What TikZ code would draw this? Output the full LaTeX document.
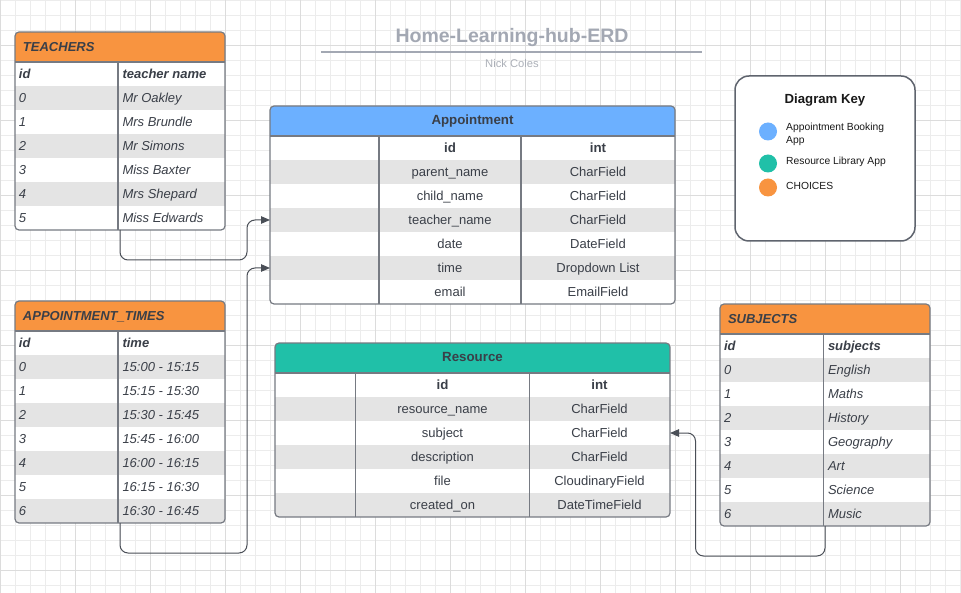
\documentclass[tikz,border=0pt]{standalone}
\usepackage{fontspec}
\setmainfont{Liberation Sans}
\usetikzlibrary{arrows.meta}
\definecolor{gridminor}{RGB}{236,236,236}
\definecolor{gridmajor}{RGB}{220,220,220}
\definecolor{orangeH}{RGB}{248,148,64}
\definecolor{blueH}{RGB}{108,176,255}
\definecolor{tealH}{RGB}{32,192,168}
\definecolor{rowgray}{RGB}{228,228,228}
\definecolor{txt}{RGB}{58,63,72}
\definecolor{tblborder}{RGB}{118,122,130}
\definecolor{conn}{RGB}{74,79,87}
\definecolor{titlegray}{RGB}{163,168,179}
\definecolor{subgray}{RGB}{172,176,184}
\definecolor{keyborder}{RGB}{95,100,110}
\definecolor{keytxt}{RGB}{25,25,25}
\tikzset{
  cell/.style={inner sep=0pt, outer sep=0pt, text=txt, text height=9.4pt, text depth=0pt, font=\fontsize{13}{15}\selectfont},
  icell/.style={cell, font=\fontsize{13}{15}\selectfont\itshape},
  bicell/.style={cell, font=\fontsize{13}{15}\selectfont\bfseries\itshape},
  bcell/.style={cell, font=\fontsize{13.3}{15}\selectfont\bfseries},
  rowbox/.style={draw=none, inner sep=0pt, outer sep=0pt, minimum height=24pt},
  tbl/.style={draw=tblborder, line width=1.2pt, rounded corners=4pt, inner sep=0pt, outer sep=0pt},
  divider/.style={draw=tblborder, line width=1.1pt},
  connector/.style={draw=conn, line width=1pt, rounded corners=8pt, -{Triangle[length=9pt,width=7.5pt]}},
  keydot/.style={circle, minimum size=18pt, inner sep=0pt},
  keytext/.style={inner sep=0pt, text=keytxt, font=\fontsize{10.3}{13.3}\selectfont, align=left},
}
\begin{document}
\begin{tikzpicture}[x=1pt,y=-1pt]
\useasboundingbox (0,0) rectangle (961,593);
\fill[white] (0,0) rectangle (961,593);
% grid
\foreach \i in {0,...,64} \draw[gridminor, line width=0.9pt] (0.7+15*\i,0) -- (0.7+15*\i,593);
\foreach \j in {0,...,39} \draw[gridminor, line width=0.9pt] (0,0.7+15*\j) -- (961,0.7+15*\j);
\foreach \i in {0,...,12} \draw[gridmajor, line width=1pt] (0.7+75*\i,0) -- (0.7+75*\i,593);
\foreach \j in {0,...,7} \draw[gridmajor, line width=1pt] (0,45.7+75*\j) -- (961,45.7+75*\j);

% title
\node[inner sep=0pt, text=titlegray, font=\fontsize{19.5}{22}\selectfont\bfseries] (title) at (512,38) {Home-Learning-hub-ERD};
\coordinate (ruleL) at (321,52);
\coordinate (ruleR) at (702,52);
\draw[titlegray, line width=1.3pt] (ruleL) -- (ruleR);
\node[inner sep=0pt, text=subgray, font=\fontsize{11.2}{13}\selectfont] (author) at (512,63.5) {Nick Coles};

% ===== TEACHERS =====
\begin{scope}
  \clip[rounded corners=4pt] (15,32) rectangle (225,230);
  \fill[white] (15,32) rectangle (225,230);
  \fill[orangeH] (15,32) rectangle (225,62);
  \foreach \r in {1,3,5} \fill[rowgray] (15,62+24*\r) rectangle (225,86+24*\r);
\end{scope}
\draw[divider] (15,62) -- (225,62);
\draw[divider] (118,62) -- (118,230);
\node[tbl, minimum width=210pt, minimum height=198pt] (teachers) at (120,131) {};
\node[bicell, anchor=west] (teachersTitle) at (23,47) {TEACHERS};
\node[bicell, anchor=west] (tchIdH) at (19,74) {id};
\node[bicell, anchor=west] (tchNmH) at (122.5,74) {teacher name};
\foreach \i/\n [count=\k from 1] in {0/Mr Oakley,1/Mrs Brundle,2/Mr Simons,3/Miss Baxter,4/Mrs Shepard,5/Miss Edwards} {
  \node[icell, anchor=west] (tchId\k) at (19,74+24*\k) {\i};
  \node[icell, anchor=west] (tchNm\k) at (122.5,74+24*\k) {\n};
}

% ===== APPOINTMENT_TIMES =====
\begin{scope}
  \clip[rounded corners=4pt] (15,301) rectangle (225,523);
  \fill[white] (15,301) rectangle (225,523);
  \fill[orangeH] (15,301) rectangle (225,331);
  \foreach \r in {1,3,5,7} \fill[rowgray] (15,331+24*\r) rectangle (225,355+24*\r);
\end{scope}
\draw[divider] (15,331) -- (225,331);
\draw[divider] (118,331) -- (118,523);
\node[tbl, minimum width=210pt, minimum height=222pt] (times) at (120,412) {};
\node[bicell, anchor=west] (timesTitle) at (23,316) {APPOINTMENT\_TIMES};
\node[bicell, anchor=west] (tmIdH) at (19,343) {id};
\node[bicell, anchor=west] (tmTmH) at (122.5,343) {time};
\foreach \i/\n [count=\k from 1] in {0/15:00 - 15:15,1/15:15 - 15:30,2/15:30 - 15:45,3/15:45 - 16:00,4/16:00 - 16:15,5/16:15 - 16:30,6/16:30 - 16:45} {
  \node[icell, anchor=west] (tmId\k) at (19,343+24*\k) {\i};
  \node[icell, anchor=west] (tmTm\k) at (122.5,343+24*\k) {\n};
}

% ===== SUBJECTS =====
\begin{scope}
  \clip[rounded corners=4pt] (720,304) rectangle (930,526);
  \fill[white] (720,304) rectangle (930,526);
  \fill[orangeH] (720,304) rectangle (930,334);
  \foreach \r in {1,3,5,7} \fill[rowgray] (720,334+24*\r) rectangle (930,358+24*\r);
\end{scope}
\draw[divider] (720,334) -- (930,334);
\draw[divider] (823.5,334) -- (823.5,526);
\node[tbl, minimum width=210pt, minimum height=222pt] (subjects) at (825,415) {};
\node[bicell, anchor=west] (subjectsTitle) at (728,319) {SUBJECTS};
\node[bicell, anchor=west] (sbIdH) at (724,346) {id};
\node[bicell, anchor=west] (sbNmH) at (828,346) {subjects};
\foreach \i/\n [count=\k from 1] in {0/English,1/Maths,2/History,3/Geography,4/Art,5/Science,6/Music} {
  \node[icell, anchor=west] (sbId\k) at (724,346+24*\k) {\i};
  \node[icell, anchor=west] (sbNm\k) at (828,346+24*\k) {\n};
}

% ===== APPOINTMENT =====
\begin{scope}
  \clip[rounded corners=4pt] (270,106) rectangle (675,304);
  \fill[white] (270,106) rectangle (675,304);
  \node[rowbox, fill=blueH, minimum width=405pt, minimum height=30pt] (apHead) at (472.5,121) {};
  \foreach \k/\c in {0/white,1/rowgray,2/white,3/rowgray,4/white,5/rowgray,6/white}
    \node[rowbox, fill=\c, minimum width=405pt] (apRow\k) at (472.5,148+24*\k) {};
\end{scope}
\draw[divider] (270,136) -- (675,136);
\draw[divider] (379,136) -- (379,304);
\draw[divider] (521,136) -- (521,304);
\node[tbl, minimum width=405pt, minimum height=198pt] (appointment) at (472.5,205) {};
\node[bcell] (apTitle) at (472.5,120) {Appointment};
\node[bcell] (apIdH) at (450,148) {id};
\node[bcell] (apIntH) at (598,148) {int};
\foreach \f/\t [count=\k from 1] in {parent\_name/CharField,child\_name/CharField,teacher\_name/CharField,date/DateField,time/Dropdown List,email/EmailField} {
  \node[cell] (apF\k) at (450,148+24*\k) {\f};
  \node[cell] (apT\k) at (598,148+24*\k) {\t};
}

% ===== RESOURCE =====
\begin{scope}
  \clip[rounded corners=4pt] (275,343) rectangle (670,517);
  \fill[white] (275,343) rectangle (670,517);
  \node[rowbox, fill=tealH, minimum width=395pt, minimum height=30pt] (resHead) at (472.5,358) {};
  \foreach \k/\c in {0/white,1/rowgray,2/white,3/rowgray,4/white,5/rowgray}
    \node[rowbox, fill=\c, minimum width=395pt] (resRow\k) at (472.5,385+24*\k) {};
\end{scope}
\draw[divider] (275,373) -- (670,373);
\draw[divider] (355.5,373) -- (355.5,517);
\draw[divider] (529.5,373) -- (529.5,517);
\node[tbl, minimum width=395pt, minimum height=174pt] (resource) at (472.5,430) {};
\node[bcell] (resTitle) at (472.5,357) {Resource};
\node[bcell] (resIdH) at (442.5,385) {id};
\node[bcell] (resIntH) at (599.5,385) {int};
\foreach \f/\t [count=\k from 1] in {resource\_name/CharField,subject/CharField,description/CharField,file/CloudinaryField,created\_on/DateTimeField} {
  \node[cell] (resF\k) at (442.5,385+24*\k) {\f};
  \node[cell] (resT\k) at (599.5,385+24*\k) {\t};
}

% ===== KEY =====
\node[draw=keyborder, line width=1.5pt, rounded corners=14pt, fill=white, minimum width=180pt, minimum height=165pt, inner sep=0pt] (keybox) at (825,158.5) {};
\node[inner sep=0pt, text=keytxt, font=\fontsize{13.2}{15}\selectfont\bfseries] (keyTitle) at (825,100) {Diagram Key};
\node[keydot, fill=blueH] (dotA) at (768,131.5) {};
\node[keydot, fill=tealH] (dotR) at (768,163.5) {};
\node[keydot, fill=orangeH] (dotC) at (768,187.5) {};
\node[keytext, anchor=west] (keyA) at (786,134.5) {Appointment Booking\\App};
\node[keytext, anchor=west] (keyR) at (786,162) {Resource Library App};
\node[keytext, anchor=west] (keyC) at (786,186) {CHOICES};

% ===== CONNECTORS =====
\draw[connector] (teachers.south) -- ++(0,30) -| ([xshift=-23pt]apRow3.west) -- (apRow3.west);
\draw[connector] (times.south) -- ++(0,30) -| ([xshift=-23pt]apRow5.west) -- (apRow5.west);
\draw[connector] (subjects.south) -- ++(0,30) -| ([xshift=25.5pt]resRow2.east) -- (resRow2.east);
\end{tikzpicture}
\end{document}
